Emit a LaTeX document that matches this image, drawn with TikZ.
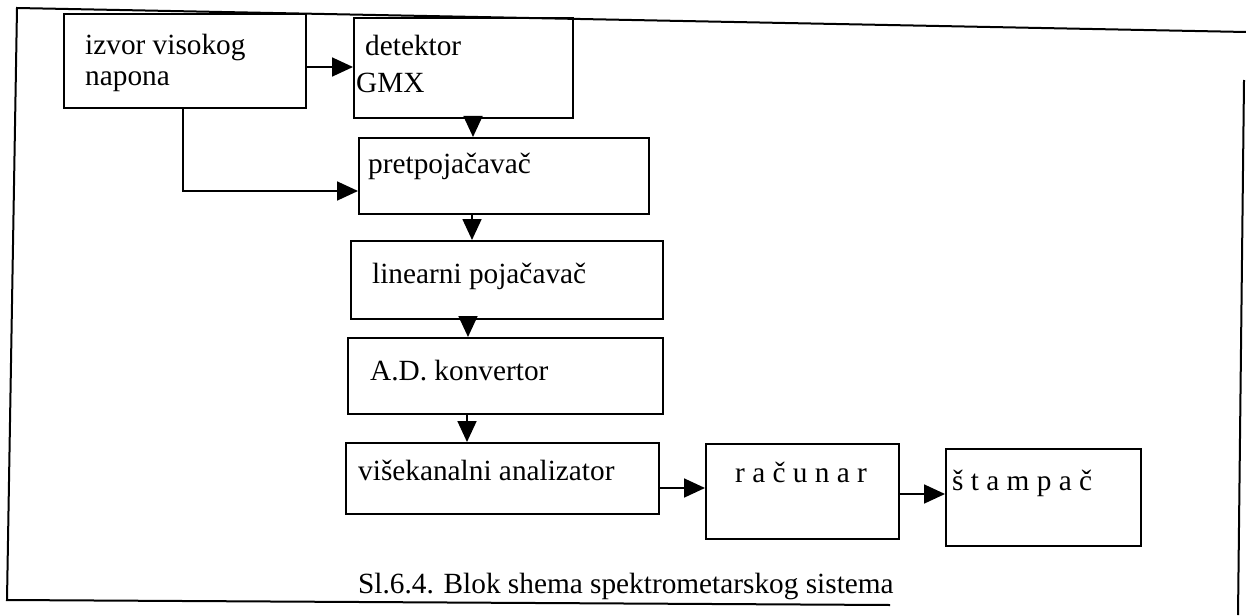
\documentclass[tikz,border=0pt]{standalone}
\usepackage{fontspec}
\setmainfont{Liberation Serif}
\usetikzlibrary{arrows.meta,calc}
\begin{document}
\begin{tikzpicture}[x=1pt,y=-1pt,
  blok/.style={draw,line width=2pt,inner sep=0pt,anchor=north west},
  lbl/.style={inner sep=0pt,anchor=base west,font=\fontsize{29.3}{36}\selectfont},
  arr/.style={line width=1.8pt,-{Triangle[length=21pt,width=19pt]}},
  okvir/.style={line width=2pt}]
\useasboundingbox (0,0) rectangle (1246,615);
\fill[white] (0,0) rectangle (1246,615);
% frame
\draw[okvir] (1246,32) -- (17,8) -- (7,600) -- (890,605);
\draw[okvir] (1244,80) -- (1238,615);
% boxes
\node[blok,minimum width=242pt,minimum height=94pt] (izvor) at (63,13) {};
\node[blok,minimum width=219pt,minimum height=100pt] (detektor) at (353,17) {};
\node[blok,minimum width=290pt,minimum height=76pt] (pretpoj) at (358,137) {};
\node[blok,minimum width=312pt,minimum height=78pt] (linearni) at (350,240) {};
\node[blok,minimum width=315pt,minimum height=76pt] (adkonv) at (347,337) {};
\node[blok,minimum width=313pt,minimum height=71pt] (visek) at (345,442) {};
\node[blok,minimum width=193pt,minimum height=95pt] (racunar) at (705,443) {};
\node[blok,minimum width=195pt,minimum height=97pt] (stampac) at (945,448) {};
% texts
\node[lbl] (t1) at (85,55) {izvor visokog};
\node[lbl] (t2) at (85,86) {napona};
\node[lbl] (t3) at (365,56) {detektor};
\node[lbl] (t4) at (356,93) {GMX};
\node[lbl] (t5) at (368,173) {pretpojačavač};
\node[lbl] (t6) at (372,283) {linearni pojačavač};
\node[lbl] (t7) at (370,380) {A.D. konvertor};
\node[lbl] (t8) at (358,480) {višekanalni analizator};
\node[lbl] (t9) at (735,482) {r a č u n a r};
\node[lbl] (t10) at (952,490) {š t a m p a č};
\node[lbl] (cap) at (358,593) {Sl.6.4. Blok shema spektrometarskog sistema};
% helper coordinates
\coordinate (c1) at (473,0);
\coordinate (c2) at (472,0);
\coordinate (c3) at (468,0);
\coordinate (c4) at (467,0);
\coordinate (r0) at (0,67);
\coordinate (r1) at (0,191);
\coordinate (r2) at (0,488);
\coordinate (r3) at (0,494);
\coordinate (k1) at (183,0);
% connectors
\draw[arr] (izvor.east |- r0) -- (detektor.west |- r0);
\draw[arr] (izvor.south -| k1) |- (pretpoj.west |- r1);
\draw[arr] (detektor.south -| c1) -- (pretpoj.north -| c1);
\draw[arr] (pretpoj.south -| c2) -- (linearni.north -| c2);
\draw[arr] (linearni.south -| c3) -- (adkonv.north -| c3);
\draw[arr] (adkonv.south -| c4) -- (visek.north -| c4);
\draw[arr] (visek.east |- r2) -- (racunar.west |- r2);
\draw[arr] (racunar.east |- r3) -- (stampac.west |- r3);
\end{tikzpicture}
\end{document}
